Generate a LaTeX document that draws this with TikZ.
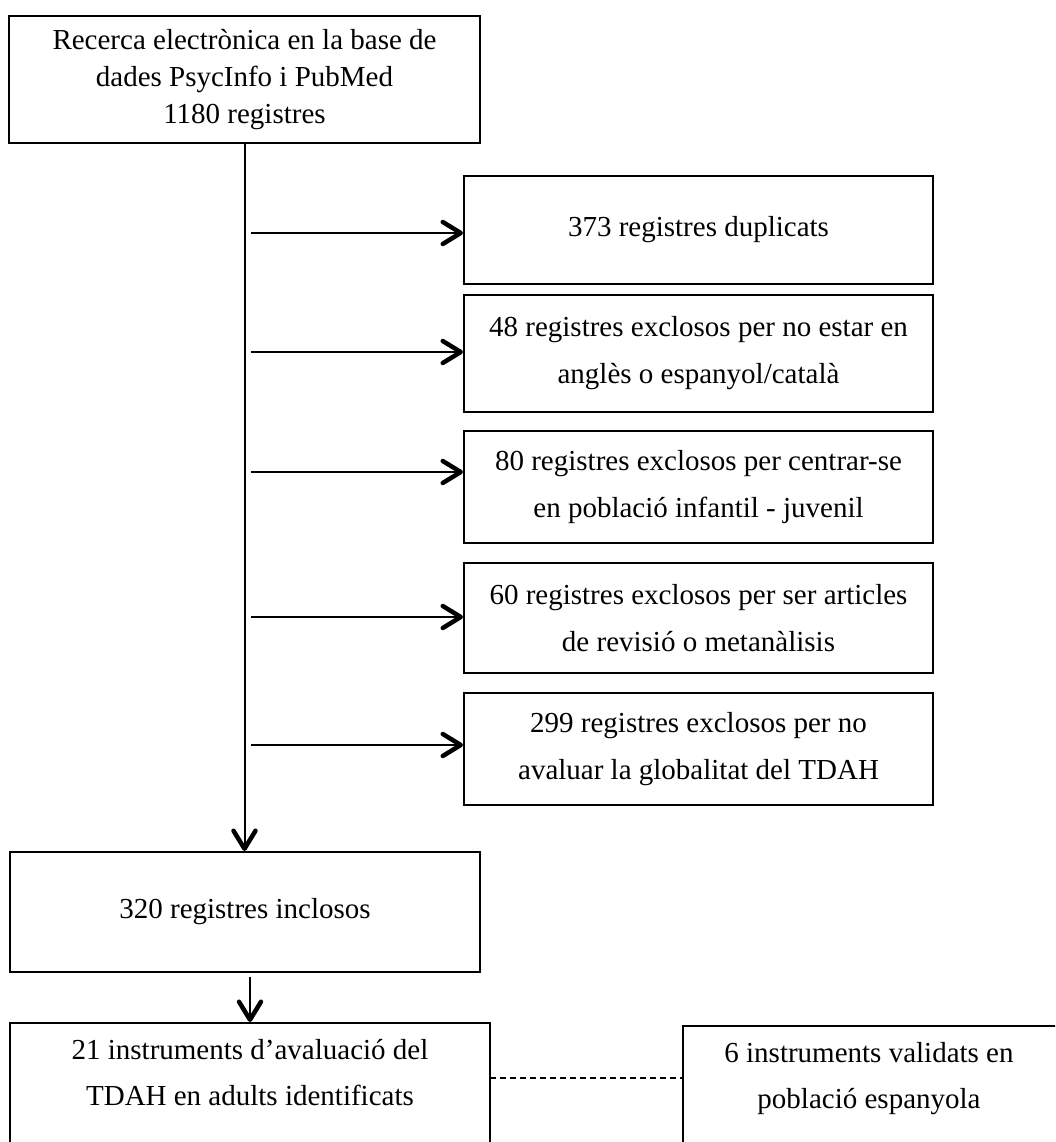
\documentclass[tikz,border=0pt]{standalone}
\usepackage{fontspec}
\setmainfont{Liberation Serif}
\usetikzlibrary{arrows.meta}
\begin{document}
\begin{tikzpicture}[x=1pt,y=-1pt,
  box/.style={draw, line width=2pt, rectangle, inner sep=0pt, align=center, font=\fontsize{29}{47}\selectfont},
  txt/.style={inner sep=0pt, align=center, font=\fontsize{29}{46}\selectfont},
  arr/.style={line width=2pt, -{Straight Barb[length=18pt,width=22pt,line width=4.5pt,round]}},
  dashline/.style={line width=2pt, dash pattern=on 6pt off 4pt},
]
\useasboundingbox (0,0) rectangle (1055,1142);
\clip (0,0) rectangle (1055,1142);
\node[box, minimum width=471, minimum height=127, font=\fontsize{29}{37}\selectfont] (top) at (244.5,79.5) {Recerca electrònica en la base de\\dades PsycInfo i PubMed\\1180 registres};
\node[box, minimum width=469, minimum height=108] (r1) at (698.5,230) {373 registres duplicats};
\node[box, minimum width=469, minimum height=117] (r2) at (698.5,353.5) {48 registres exclosos per no estar en\\anglès o espanyol/català};
\node[box, minimum width=469, minimum height=112] (r3) at (698.5,487) {80 registres exclosos per centrar-se\\en població infantil - juvenil};
\node[box, minimum width=469, minimum height=110] (r4) at (698.5,618) {60 registres exclosos per ser articles\\de revisió o metanàlisis};
\node[box, minimum width=469, minimum height=112] (r5) at (698.5,749) {299 registres exclosos per no\\avaluar la globalitat del TDAH};
\node[box, minimum width=470, minimum height=120] (inc) at (245,912) {320 registres inclosos};
\node[box, minimum width=480, minimum height=150, anchor=north] (b1) at (250,1022) {};
\node[box, minimum width=392, minimum height=150, anchor=north] (b2) at (879,1025) {};
\node[txt] (b1t) at (250,1073) {21 instruments d’avaluació del\\TDAH en adults identificats};
\node[txt] (b2t) at (869,1079) {6 instruments validats en\\població espanyola};

\draw[arr] (top.south) -- (top.south |- inc.north);
\coordinate (s1) at (251,233);
\coordinate (s2) at (251,352);
\coordinate (s3) at (251,472);
\coordinate (s4) at (251,617);
\coordinate (s5) at (251,745);
\draw[arr] (s1) -- (s1 -| r1.west);
\draw[arr] (s2) -- (s2 -| r2.west);
\draw[arr] (s3) -- (s3 -| r3.west);
\draw[arr] (s4) -- (s4 -| r4.west);
\draw[arr] (s5) -- (s5 -| r5.west);
\coordinate (s6) at (250,977);
\draw[arr] (s6) -- (s6 |- b1.north);
\coordinate (d1) at (490,1078);
\draw[dashline] (d1) -- (d1 -| b2.west);
\end{tikzpicture}
\end{document}
